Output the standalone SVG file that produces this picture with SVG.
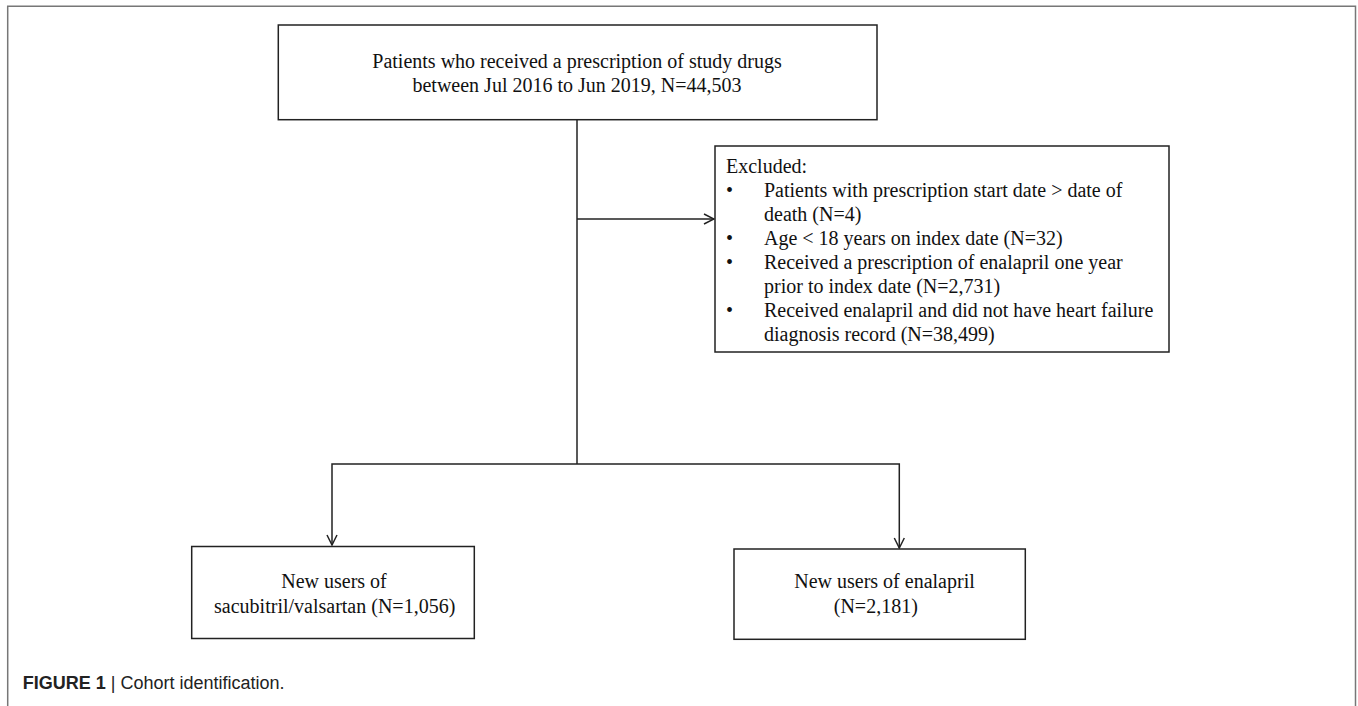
<svg xmlns="http://www.w3.org/2000/svg" width="1358" height="706" viewBox="0 0 1358 706">
<defs>
<style>
.box{fill:#fff;stroke:#222;stroke-width:1.5}
.t{font-family:"Liberation Serif","Times New Roman",serif;font-size:20px;fill:#111}
.c{text-anchor:middle}
.con{fill:none;stroke:#222;stroke-width:1.5}
.cap{font-family:"Liberation Sans",Arial,sans-serif;font-size:18px;fill:#222}
</style>
<marker id="arr" viewBox="0 0 12 12" refX="11" refY="6" markerWidth="12" markerHeight="12" markerUnits="userSpaceOnUse" orient="auto">
<path d="M1,1 L11,6 L1,11" fill="none" stroke="#222" stroke-width="1.5"/>
</marker>
</defs>
<rect width="1358" height="706" fill="#fff"/>
<path d="M7.7,712 V6.3 H1355.5 V712" fill="none" stroke="#777" stroke-width="1.5"/>
<g id="connectors">
<line class="con" x1="577" y1="120" x2="577" y2="464"/>
<line class="con" x1="577" y1="219" x2="714" y2="219" marker-end="url(#arr)"/>
<polyline class="con" points="577,464 332,464 332,545" marker-end="url(#arr)"/>
<polyline class="con" points="577,464 899.3,464 899.3,548" marker-end="url(#arr)"/>
</g>
<g id="node-start">
<rect class="box" x="278.3" y="25" width="598.7" height="94.7"/>
<text class="t c" x="577" y="67.5">Patients who received a prescription of study drugs</text>
<text class="t c" x="577" y="91.5">between Jul 2016 to Jun 2019, N=44,503</text>
</g>
<g id="node-excluded">
<rect class="box" x="715" y="146" width="454" height="206"/>
<text class="t" x="726" y="173">Excluded:</text>
<text class="t" x="726" y="197">•</text>
<text class="t" x="764" y="197">Patients with prescription start date &gt; date of</text>
<text class="t" x="764" y="221">death (N=4)</text>
<text class="t" x="726" y="245">•</text>
<text class="t" x="764" y="245">Age &lt; 18 years on index date (N=32)</text>
<text class="t" x="726" y="269">•</text>
<text class="t" x="764" y="269">Received a prescription of enalapril one year</text>
<text class="t" x="764" y="293">prior to index date (N=2,731)</text>
<text class="t" x="726" y="317">•</text>
<text class="t" x="764" y="317">Received enalapril and did not have heart failure</text>
<text class="t" x="764" y="341">diagnosis record (N=38,499)</text>
</g>
<g id="node-sacubitril">
<rect class="box" x="191.7" y="546.5" width="282.6" height="92"/>
<text class="t c" x="334" y="588">New users of</text>
<text class="t c" x="334.7" y="612.5">sacubitril/valsartan (N=1,056)</text>
</g>
<g id="node-enalapril">
<rect class="box" x="734" y="549" width="291.3" height="90.3"/>
<text class="t c" x="884.5" y="588">New users of enalapril</text>
<text class="t c" x="875.8" y="612.5">(N=2,181)</text>
</g>
<g id="caption">
<text class="cap" x="22.7" y="689.3"><tspan font-weight="bold">FIGURE 1</tspan> | Cohort identification.</text>
</g>
</svg>
